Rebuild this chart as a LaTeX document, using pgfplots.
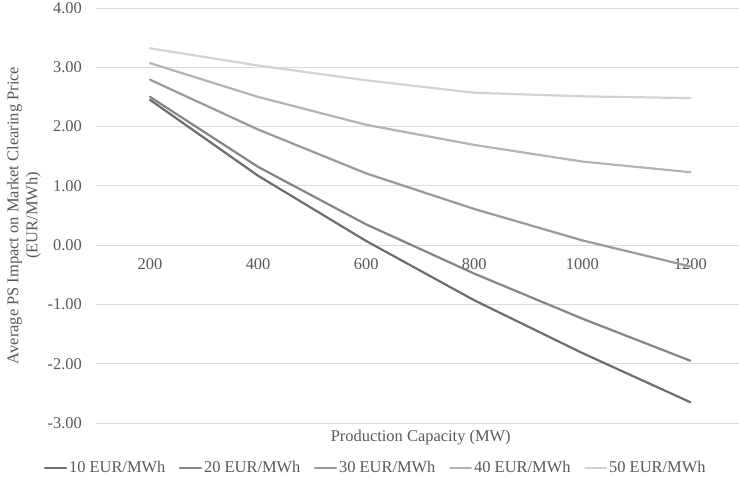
\documentclass[border=0pt]{standalone}
\usepackage{pgfplots}
\pgfplotsset{compat=1.18}
\usepackage{fontspec}
\setmainfont{Liberation Serif}
\definecolor{gridc}{HTML}{DCDCDC}
\definecolor{sA}{HTML}{6E6E6E}
\definecolor{sB}{HTML}{858585}
\definecolor{sC}{HTML}{9A9A9A}
\definecolor{sD}{HTML}{B4B4B4}
\definecolor{sE}{HTML}{D2D2D2}
\newcommand{\fs}{\fontsize{16.5}{19}\selectfont}
\begin{document}
\fs
\begin{tikzpicture}[x=1bp,y=1bp]
\path[use as bounding box] (-96,-61) rectangle (643,423);
\begin{axis}[
  at={(0,0)}, anchor=south west, scale only axis,
  width=643bp, height=415bp,
  xmin=-0.5, xmax=5.45, ymin=-3, ymax=4,
  axis x line*=middle, axis y line*=left,
  x axis line style={draw=gridc, line width=0.8bp},
  y axis line style={draw=none},
  ytick={-3,-2,-1,0,1,2,3,4},
  xtick={0,1,2,3,4,5},
  xticklabels={200,400,600,800,1000,1200},
  major tick length=0pt,
  ymajorgrids, xmajorgrids=false,
  grid style={draw=gridc, line width=0.8bp},
  /pgf/number format/assume math mode=true,
  yticklabel style={/pgf/number format/.cd, fixed, fixed zerofill, precision=2, /tikz/.cd, font=\fs, text=black!65, inner sep=0pt, anchor=east, xshift=-14bp},
  xticklabel style={font=\fs, text=black!65, inner sep=0pt, anchor=north, yshift=-13bp},
  xlabel={Production Capacity (MW)},
  xlabel style={at={(axis description cs:0.505,-0.034)}, anchor=center, font=\fs, text=black!65},
  ylabel={Average PS Impact on Market Clearing Price\\(EUR/MWh)},
  ylabel style={at={(axis description cs:-0.112,0.5)}, anchor=center, align=center, font=\fs, text=black!65, rotate=0},
  legend columns=5,
  legend cell align=left,
  legend style={draw=none, fill=none, font=\fs, text=black!65, at={(axis description cs:0.435,-0.108)}, anchor=center,
    /tikz/every even column/.append style={column sep=11.5bp},
    /tikz/every odd column/.append style={column sep=0bp}},
  legend image code/.code={\draw[#1] (0bp,0bp) -- (21bp,0bp);},
  every axis plot/.append style={line width=2.2bp, line join=round, line cap=round},
  clip=false,
]
\addplot[sA] coordinates {(0,2.45) (1,1.17) (2,0.07) (3,-0.93) (4,-1.82) (5,-2.65)};
\addlegendentry{10 EUR/MWh}
\addplot[sB] coordinates {(0,2.50) (1,1.32) (2,0.35) (3,-0.48) (4,-1.24) (5,-1.95)};
\addlegendentry{20 EUR/MWh}
\addplot[sC] coordinates {(0,2.79) (1,1.95) (2,1.21) (3,0.61) (4,0.08) (5,-0.36)};
\addlegendentry{30 EUR/MWh}
\addplot[sD] coordinates {(0,3.07) (1,2.50) (2,2.03) (3,1.69) (4,1.41) (5,1.23)};
\addlegendentry{40 EUR/MWh}
\addplot[sE] coordinates {(0,3.32) (1,3.03) (2,2.78) (3,2.57) (4,2.51) (5,2.48)};
\addlegendentry{50 EUR/MWh}
\end{axis}
\end{tikzpicture}
\end{document}
